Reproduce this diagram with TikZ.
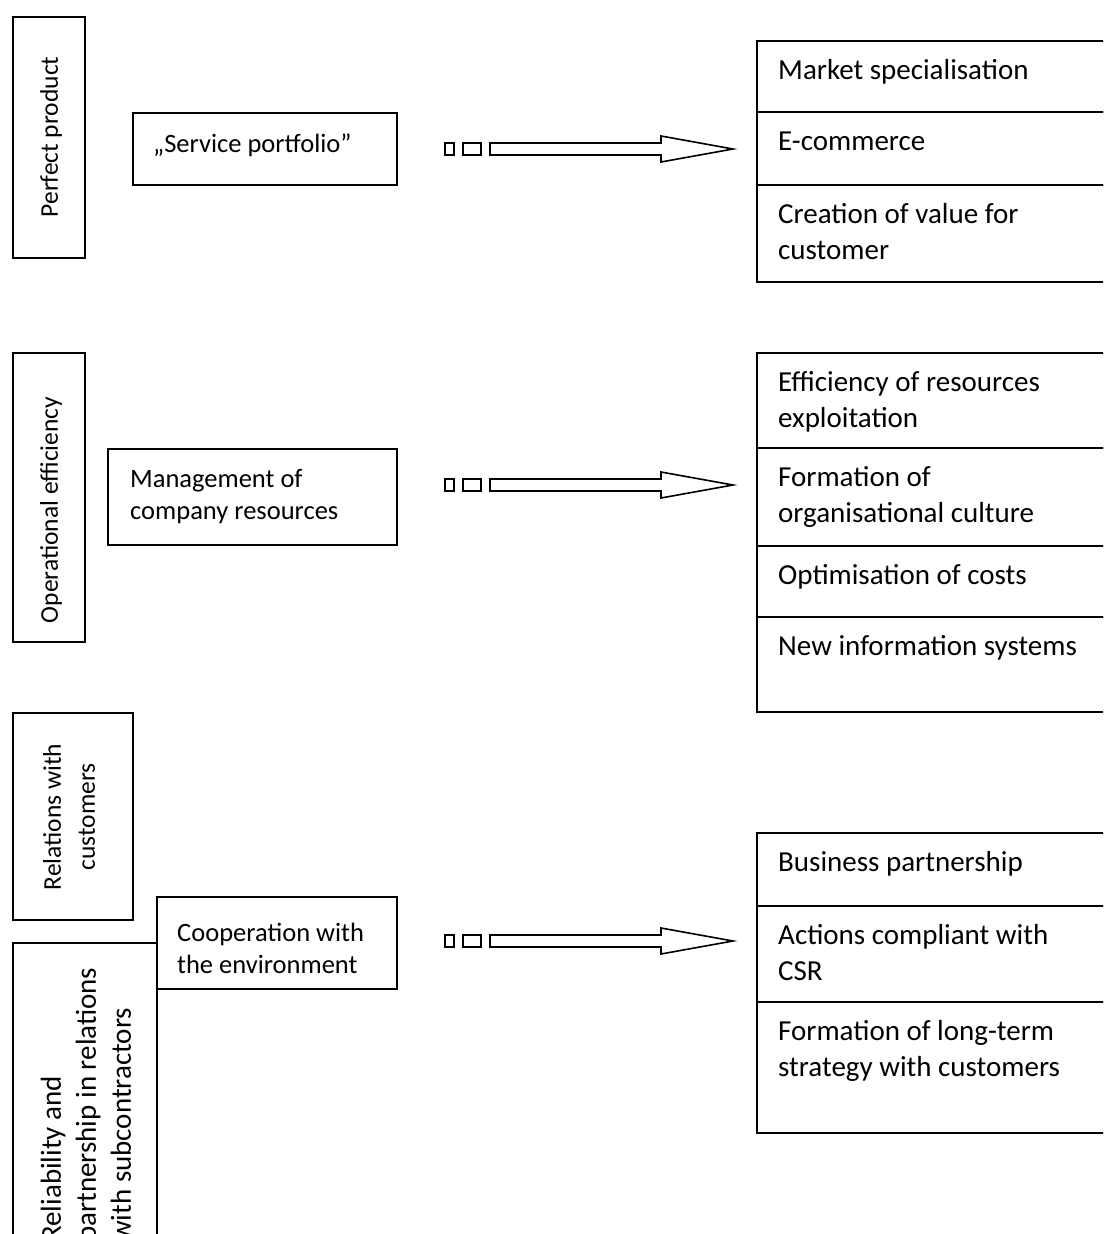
\documentclass[tikz,border=0pt]{standalone}
\usepackage{fontspec}
\setmainfont{Carlito}
\begin{document}
\begin{tikzpicture}[x=1pt,y=-1pt,
  box/.style={draw, line width=1.6pt, inner sep=0pt, outer sep=0pt, anchor=north west},
  lbl/.style={inner sep=0pt, font=\fontsize{29}{36}\selectfont, align=left, anchor=base west},
  mlbl/.style={inner sep=0pt, font=\fontsize{26.5}{32}\selectfont, align=left, anchor=base west},
  vlbl/.style={inner sep=0pt, font=\fontsize{25.5}{34}\selectfont, rotate=90},
  rlbl/.style={inner sep=0pt, font=\fontsize{29}{35}\selectfont, rotate=90, align=left, anchor=west},
  arr/.style={draw, line width=1.6pt, fill=white, line join=miter},
  pics/fatarrow/.style={code={
    \draw[arr] (-288,-6) rectangle (-279,6);
    \draw[arr] (-270,-6) rectangle (-252,6);
    \draw[arr] (-243,-6) -- (-72,-6) -- (-72,-13) -- (0,0) -- (-72,13) -- (-72,6) -- (-243,6) -- cycle;
  }}
]
\useasboundingbox (0,0) rectangle (1103,1234);
\clip (0,0) rectangle (1103,1234);
\fill[white] (0,0) rectangle (1103,1234);

% left column
\node[box, minimum width=72, minimum height=241] (pp) at (13,17) {};
\node[vlbl] (ppt) at (51,137) {Perfect product};
\node[box, minimum width=72, minimum height=289] (oe) at (13,353) {};
\node[vlbl] (oet) at (51,510) {Operational efficiency};
\node[box, minimum width=120, minimum height=207] (rc) at (13,713) {};
\node[vlbl, align=center] (rct) at (69,817) {Relations with\\customers};
\node[box, minimum width=144, minimum height=330] (rl) at (13,943) {};
\node[rlbl] (rlt) at (86,1242) {Reliability and\\partnership in relations\\with subcontractors};

% middle boxes
\node[box, minimum width=264, minimum height=72] (sp) at (133,113) {};
\node[mlbl] (spt) at ([shift={(20,39)}]sp.north west) {„Service portfolio”};
\node[box, minimum width=289, minimum height=96] (mg) at (108,449) {};
\node[mlbl] (mgt) at ([shift={(22,70)}]mg.north west) {Management of\\company resources};
\node[box, minimum width=240, minimum height=92] (co) at (157,897) {};
\node[mlbl] (cot) at ([shift={(20,76)}]co.north west) {Cooperation with\\the environment};

% arrows
\coordinate (tip1) at (733,149);
\coordinate (tip2) at (733,485);
\coordinate (tip3) at (733,941);
\pic at (tip1) {fatarrow};
\pic at (tip2) {fatarrow};
\pic at (tip3) {fatarrow};

% right column
\node[box, minimum width=360, minimum height=71] (r1) at (757,41) {};
\node[box, minimum width=360, minimum height=73] (r2) at (757,112) {};
\node[box, minimum width=360, minimum height=97] (r3) at (757,185) {};
\node[lbl] (t1) at ([shift={(21,38)}]r1.north west) {Market specialisation};
\node[lbl] (t2) at ([shift={(21,38)}]r2.north west) {E-commerce};
\node[lbl] (t3) at ([shift={(21,74)}]r3.north west) {Creation of value for\\customer};

\node[box, minimum width=360, minimum height=95] (r4) at (757,353) {};
\node[box, minimum width=360, minimum height=98] (r5) at (757,448) {};
\node[box, minimum width=360, minimum height=71] (r6) at (757,546) {};
\node[box, minimum width=360, minimum height=95] (r7) at (757,617) {};
\node[lbl] (t4) at ([shift={(21,74)}]r4.north west) {Efficiency of resources\\exploitation};
\node[lbl] (t5) at ([shift={(21,74)}]r5.north west) {Formation of\\organisational culture};
\node[lbl] (t6) at ([shift={(21,38)}]r6.north west) {Optimisation of costs};
\node[lbl] (t7) at ([shift={(21,38)}]r7.north west) {New information systems};

\node[box, minimum width=360, minimum height=73] (r8) at (757,833) {};
\node[box, minimum width=360, minimum height=96] (r9) at (757,906) {};
\node[box, minimum width=360, minimum height=131] (r10) at (757,1002) {};
\node[lbl] (t8) at ([shift={(21,38)}]r8.north west) {Business partnership};
\node[lbl] (t9) at ([shift={(21,74)}]r9.north west) {Actions compliant with\\CSR};
\node[lbl] (t10) at ([shift={(21,74)}]r10.north west) {Formation of long-term\\strategy with customers};
\end{tikzpicture}
\end{document}
